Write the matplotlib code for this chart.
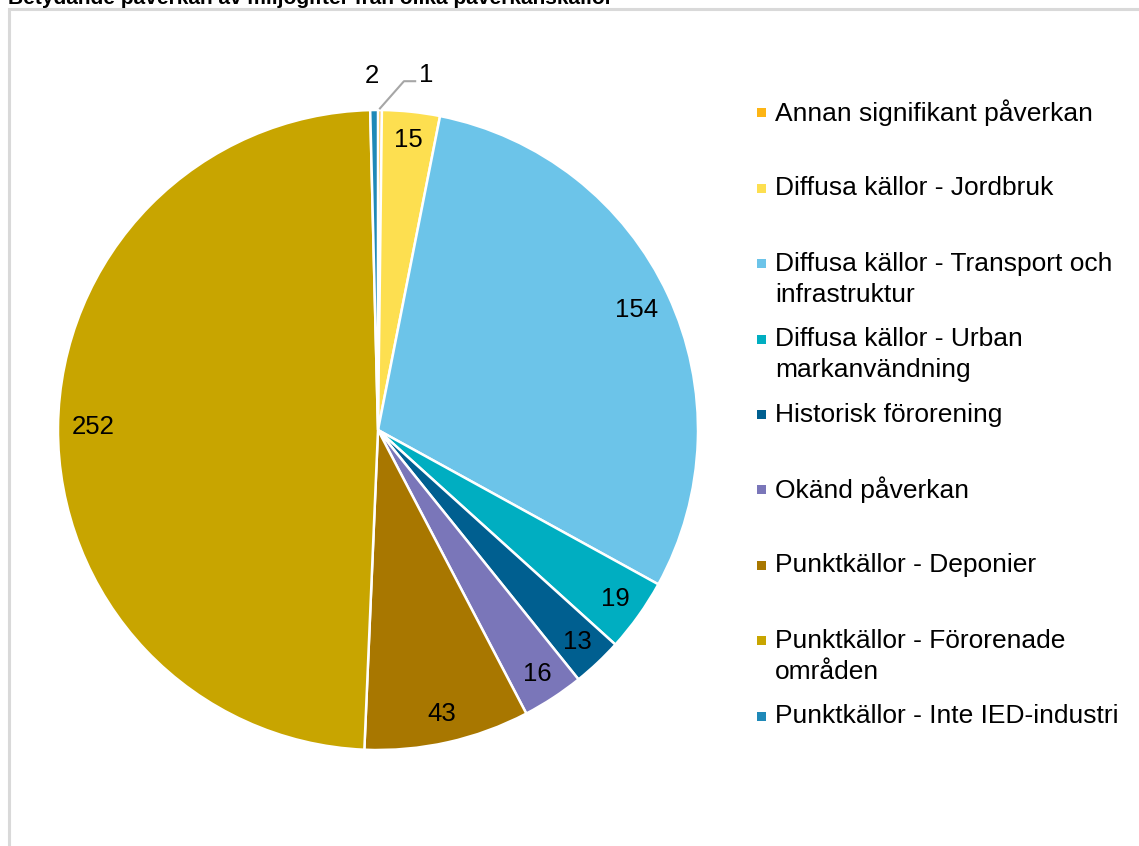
import numpy as np
import matplotlib.pyplot as plt
from matplotlib.patches import Rectangle
from matplotlib.lines import Line2D

plt.rcParams['font.family'] = ['Liberation Sans', 'DejaVu Sans']

title = "Betydande påverkan av miljögifter från olika påverkanskällor"
categories = [
    "Annan signifikant påverkan",
    "Diffusa källor - Jordbruk",
    "Diffusa källor - Transport och\ninfrastruktur",
    "Diffusa källor - Urban\nmarkanvändning",
    "Historisk förorening",
    "Okänd påverkan",
    "Punktkällor - Deponier",
    "Punktkällor - Förorenade\nområden",
    "Punktkällor - Inte IED-industri",
]
values = [1, 15, 154, 19, 13, 16, 43, 252, 2]
colors = ["#FDB515", "#FDDF50", "#6CC4E9", "#00AEC1", "#005F90",
          "#7A76B9", "#A87700", "#C8A500", "#1F89B8"]

W, H = 1139, 846
fig = plt.figure(figsize=(W / 100, H / 100), dpi=100)

# light grey frame, cut off at right and bottom
fig.patches.append(Rectangle((9 / W, -0.1), 1.2, 1.1 - 9 / H, transform=fig.transFigure,
                             fill=False, edgecolor="#D9D9D9", linewidth=2.2))

# title sits mostly above the visible area, as in the source
fig.text(8 / W, 1 - 4 / H, title, fontsize=15, fontweight="bold",
         ha="left", va="baseline", color="black")

# pie axes, centre (378, 430), radius 320 px
cx, cy, r = 378, 430, 320
ax = fig.add_axes([(cx - r) / W, (H - cy - r) / H, 2 * r / W, 2 * r / H])
wedges, _ = ax.pie(values, colors=colors, startangle=90, counterclock=False,
                   wedgeprops=dict(edgecolor="white", linewidth=1.8))
ax.set_xlim(-1, 1)
ax.set_ylim(-1, 1)
ax.set_aspect("equal")

fs = 18.5
for w, v in zip(wedges, values):
    mid = np.deg2rad((w.theta1 + w.theta2) / 2)
    if v == 1:
        x0, y0 = np.cos(mid) * 1.005, np.sin(mid) * 1.005
        ax.add_line(Line2D([x0, x0 + 0.075, x0 + 0.11], [y0, y0 + 0.085, y0 + 0.085],
                           color="#A6A6A6", linewidth=1.5, clip_on=False))
        ax.text(x0 + 0.145, y0 + 0.105, str(v), fontsize=fs, ha="center", va="center")
    elif v == 2:
        ax.text(-0.02, 1.105, str(v), fontsize=fs, ha="center", va="center")
    else:
        d = 0.89 if v > 100 else 0.91
        ax.text(np.cos(mid) * d, np.sin(mid) * d, str(v), fontsize=fs,
                ha="center", va="center", color="black")

# legend drawn as squares and text, one slot per entry
y_first, step, line_gap = 113, 75.4, 31
for i, (lab, col) in enumerate(zip(categories, colors)):
    y = y_first + step * i
    fig.patches.append(Rectangle((757 / W, 1 - (y + 4.5) / H), 9 / W, 9 / H,
                                 transform=fig.transFigure, facecolor=col, edgecolor="none"))
    for k, line in enumerate(lab.split("\n")):
        fig.text(775 / W, 1 - (y + line_gap * k) / H, line, fontsize=19,
                 ha="left", va="center", color="black")

fig.savefig("out.png", dpi=100, facecolor="white")
